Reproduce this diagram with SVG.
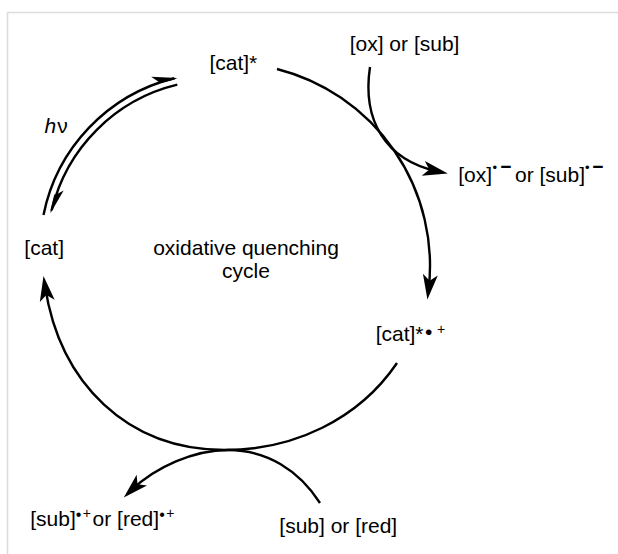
<svg xmlns="http://www.w3.org/2000/svg" width="618" height="554" viewBox="0 0 618 554">
  <style>
    .t { font-family: "Liberation Sans", Arial, sans-serif; font-size: 21px; fill: #000; }
    .c { text-anchor: middle; }
    .sm { font-size: 13px; }
    .sp { font-size: 14px; }
    .bu { font-size: 16px; }
    .mi { font-size: 19px; font-weight: bold; }
    .ln { fill: none; stroke: #000; stroke-width: 2.4; }
    .frame { fill: none; stroke: #dcdcdc; stroke-width: 1.5; }
  </style>
  <defs>
    <!-- filled arrowhead with a shallow notch; path end sits 10 px behind the tip -->
    <marker id="ah" markerUnits="userSpaceOnUse" markerWidth="30" markerHeight="20" viewBox="0 -10 30 20" refX="14" refY="0" orient="auto" overflow="visible">
      <path d="M24,0 L-1,-7.5 L5,0 L-1,7.5 Z" fill="#000"/>
    </marker>
    <!-- half arrowhead (harpoon), barb on the left-hand side of travel -->
    <marker id="hp" markerUnits="userSpaceOnUse" markerWidth="30" markerHeight="20" viewBox="0 -10 30 20" refX="21" refY="0" orient="auto" overflow="visible">
      <path d="M24,0.4 L-1,-7 L5,-0.4 L5,1.2 L21,1.2 Z" fill="#000"/>
    </marker>
  </defs>

  <rect width="618" height="554" fill="#fff"/>
  <path class="frame" d="M7.5,554 L7.5,12.5 L618,12.5"/>

  <g id="connectors">
    <!-- quenching step: [cat]* to [cat]*.+ -->
    <path class="ln" d="M277,69 A203,203 0 0,1 428.6,289.6" marker-end="url(#ah)"/>
    <!-- regeneration: [cat]*.+ back to [cat] -->
    <path class="ln" d="M397,363 C358.6,419.6 293.4,450 225,450 C127,450 59.7,383 45,286" marker-end="url(#ah)"/>
    <!-- excitation / relaxation pair -->
    <path class="ln" d="M43.5,214.9 A177,177 0 0,1 174.2,78.25" marker-end="url(#hp)"/>
    <path class="ln" d="M177.3,84.7 A170,170 0 0,0 51.7,210.3" marker-end="url(#hp)"/>
    <!-- oxidant in / reduced oxidant out -->
    <path class="ln" d="M370,67 C362,120 385,160 438,171.5" marker-end="url(#ah)"/>
    <!-- reductant in / oxidised reductant out -->
    <path class="ln" d="M320,503 C299,470.2 266.9,450 228,450 C194,450 155.5,467 131,490.5" marker-end="url(#ah)"/>
  </g>

  <g id="n-ox-in">
    <text class="t" x="349.7" y="50.5">[ox] or [sub]</text>
  </g>
  <g id="n-cat-excited">
    <text class="t" x="209.4" y="70">[cat]*</text>
  </g>
  <g id="n-hv">
    <text class="t" x="44.5" y="132.5"><tspan font-style="italic">h</tspan><tspan dx="1">ν</tspan></text>
  </g>
  <g id="n-ox-out">
    <text class="t" x="458.2" y="181.5">[ox]<tspan class="sm" x="492.4" y="172.4">•</tspan><tspan class="mi" x="500.3" y="173">−</tspan><tspan x="515" y="181.5">or [sub]</tspan><tspan class="sm" x="585" y="172.4">•</tspan><tspan class="mi" x="592.3" y="173">−</tspan></text>
  </g>
  <g id="n-cat">
    <text class="t" x="24.3" y="254.5">[cat]</text>
  </g>
  <g id="n-cycle-label">
    <text class="t c" x="246" y="255.3">oxidative quenching</text>
    <text class="t c" x="246" y="278.3">cycle</text>
  </g>
  <g id="n-cat-radical">
    <text class="t" x="375.7" y="341">[cat]*<tspan x="425" y="339">•</tspan><tspan class="sp" x="436.9" y="334.4">+</tspan></text>
  </g>
  <g id="n-sub-out">
    <text class="t" x="30.2" y="526">[sub]<tspan class="bu" x="75.7" y="519.8">•</tspan><tspan class="sp" x="82.8" y="518">+</tspan><tspan x="92.6" y="526">or [red]</tspan><tspan class="bu" x="159.2" y="519.8">•</tspan><tspan class="sp" x="166.3" y="518">+</tspan></text>
  </g>
  <g id="n-sub-in">
    <text class="t" x="279.3" y="532.8">[sub] or [red]</text>
  </g>
</svg>
